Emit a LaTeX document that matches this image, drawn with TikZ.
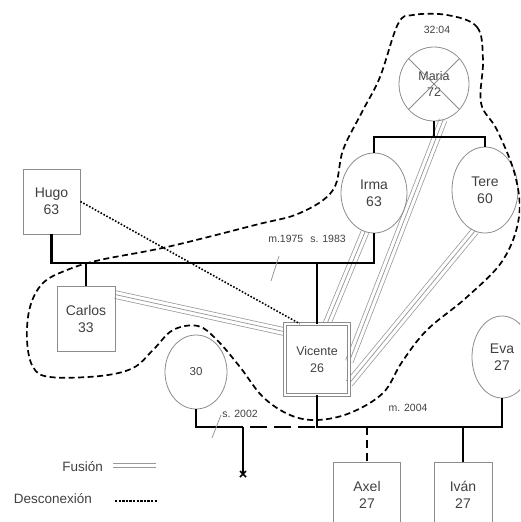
\documentclass[tikz,border=0pt]{standalone}
\usepackage{fontspec}
\setmainfont{Liberation Sans}
\usetikzlibrary{shapes.geometric,calc}
\pgfdeclarelayer{bg}
\pgfsetlayers{bg,main}
\begin{document}
\begin{tikzpicture}[x=1pt,y=-1pt,
  person/.style={draw=gray!90, line width=0.8pt, text=black!75, align=center, inner sep=0pt,
                 font=\fontsize{14}{17}\selectfont},
  fem/.style={person, ellipse},
  rel/.style={line width=2.4pt, black},
  fusion/.style={preaction={draw=gray!80, line width=8.5pt}, draw=white, line width=7pt,
                 postaction={draw=gray!80, line width=0.75pt}},
  dotline/.style={line width=1.6pt, dash pattern=on 1.6pt off 1.7pt},
  discline/.style={line width=2.4pt, dash pattern=on 2.4pt off 1.2pt},
  bound/.style={line width=1.7pt, dash pattern=on 6pt off 3.5pt},
  small/.style={font=\fontsize{10.5}{12}\selectfont, text=black!75, inner sep=1pt},
  legend/.style={font=\fontsize{13.5}{16}\selectfont, text=black!75, inner sep=0pt},
  slash/.style={draw=gray!80, line width=0.8pt}]
\clip (0,0) rectangle (520,522);

% persons
\node[person, minimum width=57pt, minimum height=65pt] (hugo) at (51.5,201.5) {Hugo\\63};
\node[person, minimum width=58pt, minimum height=65pt] (carlos) at (86,318.5) {Carlos\\33};
\node[person, double=white, double distance=2.6pt, minimum width=63.8pt, minimum height=70.8pt,
      font=\fontsize{12.5}{17.5}\selectfont] (vic) at (317,359.5) {Vicente\\26};
\node[person, minimum width=67pt, minimum height=66pt] (axel) at (367,495) {Axel\\27};
\node[person, minimum width=58pt, minimum height=66pt] (ivan) at (463,495) {Iván\\27};
\node[fem, minimum width=70pt, minimum height=74pt, font=\fontsize{12.5}{16}\selectfont] (maria) at (434,84) {Maria\\72};
\node[fem, minimum width=66pt, minimum height=80pt] (irma) at (374,193) {Irma\\63};
\node[fem, minimum width=66pt, minimum height=86pt] (tere) at (485,190) {Tere\\60};
\node[fem, minimum width=62pt, minimum height=74pt, font=\fontsize{11.5}{14}\selectfont] (p30) at (196,372) {30};
\node[fem, minimum width=60pt, minimum height=82pt] (eva) at (502,357) {Eva\\27};

% deceased cross
\draw[draw=gray!90, line width=0.8pt] (maria.45) -- (maria.225) (maria.135) -- (maria.315);
\node[small] (death) at (437,30) {32:04};

% fusion lines
\begin{pgfonlayer}{bg}
\draw[fusion] ($(carlos.north east)+(0,9)$) -- ($(vic.north west)+(0,8)$);
\draw[fusion] (irma.257) -- ($(vic.north)+(10,0)$);
\draw[fusion] (maria.284) -- ($(vic.east)+(0,2)$);
\draw[fusion] (tere.256) -- ($(vic.south east)+(0,-12)$);
\end{pgfonlayer}

% disconnection
\draw[dotline] (hugo.east) -- ($(vic.north west)+(15,0)$);

% sibship of Irma and Tere
\coordinate (s1) at (434,137);
\draw[rel] (maria.south) -- (maria.south |- s1);
\draw[rel] (irma.north) -- (irma.north |- s1) -- (tere.north |- s1) -- (tere.north);

% Hugo - Irma
\coordinate (m1) at (0,263);
\draw[rel] (hugo.south) -- (hugo.south |- m1) -- (irma.south |- m1) -- (irma.south);
\draw[rel] (carlos.north) -- (carlos.north |- m1);
\draw[rel] (vic.north) -- (vic.north |- m1);
\draw[slash] (271,281) -- (279,256);
\node[small] (lab1) at (307,239) {m.1975\hspace{7pt}s. 1983};

% Vicente - 30 and Vicente - Eva
\coordinate (m2) at (0,427);
\coordinate (c30) at (243,427);
\coordinate (cx) at (243,474);
\draw[rel] (p30.south) -- (p30.south |- m2) -- (c30);
\draw[rel, dash pattern=on 17pt off 7pt, dash phase=17pt] (c30) -- (vic.south |- m2);
\draw[rel] (vic.south) -- (vic.south |- m2) -- (eva.south |- m2) -- (eva.south);
\draw[rel] (c30) -- (cx);
\draw[line width=1.6pt] ($(cx)+(-3,-3)$) -- ($(cx)+(3,3)$) ($(cx)+(-3,3)$) -- ($(cx)+(3,-3)$);
\draw[slash] (212,438) -- (221,415);
\node[small] (lab2) at (240,414) {s. 2002};
\node[small] (lab3) at (408,408) {m. 2004};
\draw[rel, dash pattern=on 8pt off 5pt] (axel.north |- m2) -- (axel.north);
\draw[rel] (ivan.north |- m2) -- (ivan.north);

% boundary
\draw[bound] plot[smooth cycle, tension=0.6] coordinates {
 (447,15) (477,27) (483,60) (481,103) (497,130) (515,175) (519,217) (503,260)
 (467,297) (427,330) (402,362) (383,393) (350,413) (317,420) (290,415) (263,397)
 (240,367) (217,340) (198,326) (173,330) (153,350) (133,368) (100,376) (50,377)
 (33,367) (27,340) (30,307) (43,283) (67,270) (100,260) (167,247) (255,225)
 (300,213) (333,190) (343,150) (362,112) (380,77) (398,24) (413,15)};

% legend
\node[legend, anchor=east] (lfus) at (103,467) {Fusión};
\draw[fusion] ($(lfus.east)+(10,0)$) -- ++(43,0);
\node[legend, anchor=east] (ldis) at (92,499) {Desconexión};
\draw[discline] ($(ldis.east)+(23,2)$) -- ++(42,0);
\end{tikzpicture}
\end{document}
